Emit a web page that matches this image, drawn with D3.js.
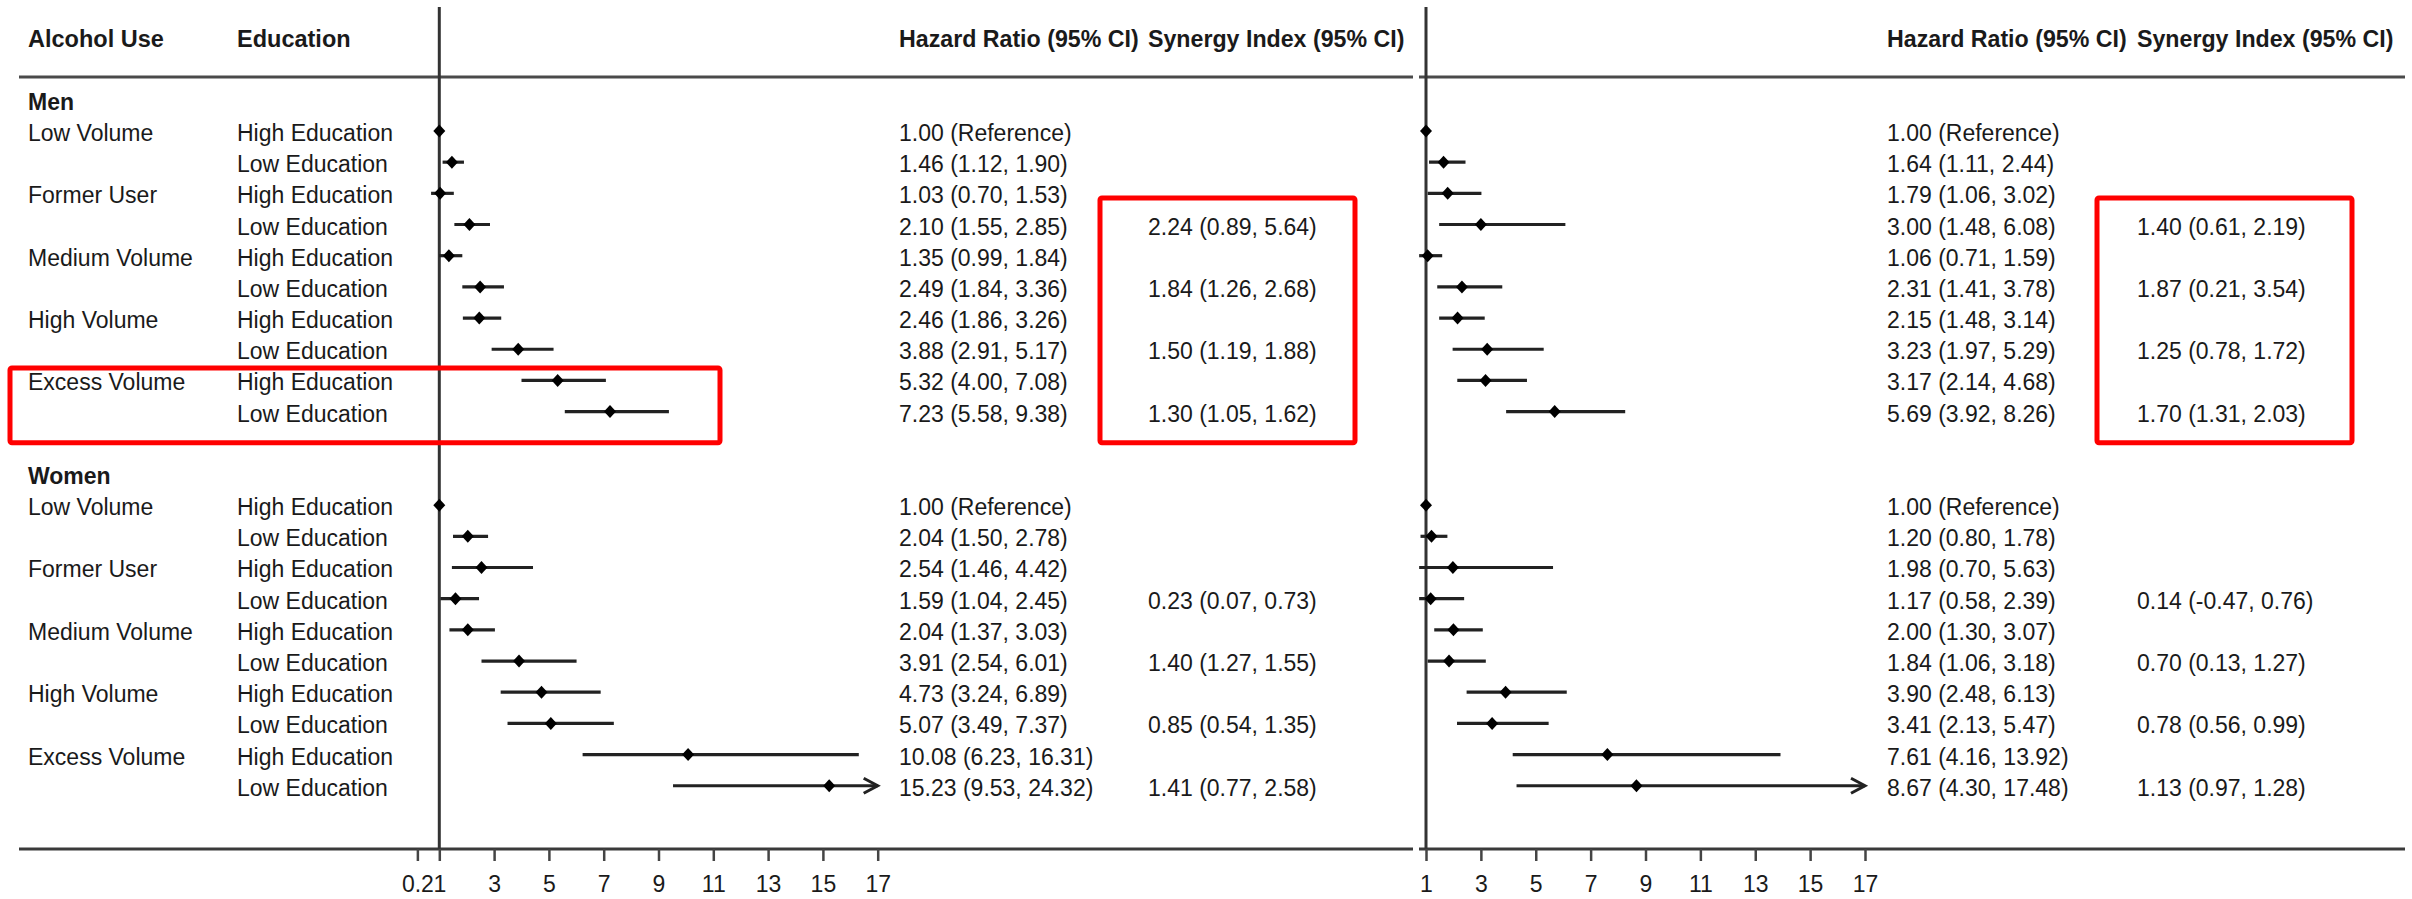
<!DOCTYPE html>
<html>
<head>
<meta charset="utf-8">
<script src="https://cdn.jsdelivr.net/npm/d3@7"></script>
<style>
  body { margin: 0; background: #fff; }
  svg { display: block; font-family: "Liberation Sans", Arial, sans-serif; }
</style>
</head>
<body>
<svg id="chart" width="2412" height="899"></svg>
<script>
// Forest plot: alcohol use x education, hazard ratios and synergy index

const alcohol = ['Low Volume', 'Former User', 'Medium Volume', 'High Volume', 'Excess Volume'];
const education = ['High Education', 'Low Education'];
const groups = ['Men', 'Women'];

// [HR, lower, upper] per row, left panel
const menA = [[1.00, null, null], [1.46, 1.12, 1.90], [1.03, 0.70, 1.53], [2.10, 1.55, 2.85], [1.35, 0.99, 1.84],
  [2.49, 1.84, 3.36], [2.46, 1.86, 3.26], [3.88, 2.91, 5.17], [5.32, 4.00, 7.08], [7.23, 5.58, 9.38]];
const womenA = [[1.00, null, null], [2.04, 1.50, 2.78], [2.54, 1.46, 4.42], [1.59, 1.04, 2.45], [2.04, 1.37, 3.03],
  [3.91, 2.54, 6.01], [4.73, 3.24, 6.89], [5.07, 3.49, 7.37], [10.08, 6.23, 16.31], [15.23, 9.53, 24.32]];
// right panel
const menB = [[1.00, null, null], [1.64, 1.11, 2.44], [1.79, 1.06, 3.02], [3.00, 1.48, 6.08], [1.06, 0.71, 1.59],
  [2.31, 1.41, 3.78], [2.15, 1.48, 3.14], [3.23, 1.97, 5.29], [3.17, 2.14, 4.68], [5.69, 3.92, 8.26]];
const womenB = [[1.00, null, null], [1.20, 0.80, 1.78], [1.98, 0.70, 5.63], [1.17, 0.58, 2.39], [2.00, 1.30, 3.07],
  [1.84, 1.06, 3.18], [3.90, 2.48, 6.13], [3.41, 2.13, 5.47], [7.61, 4.16, 13.92], [8.67, 4.30, 17.48]];

// synergy index, shown on the low-education rows of Former/Medium/High/Excess
const siRows = [3, 5, 7, 9];
const siMenA = [[2.24, 0.89, 5.64], [1.84, 1.26, 2.68], [1.50, 1.19, 1.88], [1.30, 1.05, 1.62]];
const siWomenA = [[0.23, 0.07, 0.73], [1.40, 1.27, 1.55], [0.85, 0.54, 1.35], [1.41, 0.77, 2.58]];
const siMenB = [[1.40, 0.61, 2.19], [1.87, 0.21, 3.54], [1.25, 0.78, 1.72], [1.70, 1.31, 2.03]];
const siWomenB = [[0.14, -0.47, 0.76], [0.70, 0.13, 1.27], [0.78, 0.56, 0.99], [1.13, 0.97, 1.28]];

const ticksA = [0.2, 1, 3, 5, 7, 9, 11, 13, 15, 17];
const ticksB = [1, 3, 5, 7, 9, 11, 13, 15, 17];
const xMax = 17;

const svg = d3.select('#chart');
const ink = '#1a1a1a';

// row index -> vertical position (0 = Men, 12 = Women, 24 = axis)
const y = d3.scaleLinear().domain([0, 24]).range([99.8, 848.1]);
const axisY = 849;
const base = 10; // text baseline offset from row centre

const f2 = v => v.toFixed(2);
const ciText = d => `${f2(d[0])} (${f2(d[1])}, ${f2(d[2])})`;

const panels = [
  { x: d3.scaleLinear().domain([1, xMax]).range([439.3, 877.7]), ticks: ticksA,
    data: [menA, womenA], si: [siMenA, siWomenA], hrX: 899, siX: 1148, span: [19, 1413], minVal: 0.2 },
  { x: d3.scaleLinear().domain([1, xMax]).range([1426, 1865]), ticks: ticksB,
    data: [menB, womenB], si: [siMenB, siWomenB], hrX: 1887, siX: 2137, span: [1419, 2405], minVal: 0.75 }
];

// left-hand labels
const label = (x, yy, t, size, bold) => svg.append('text')
  .attr('x', x).attr('y', yy)
  .attr('font-size', size)
  .attr('font-weight', bold ? 'bold' : 'normal')
  .attr('fill', ink)
  .text(t);

label(28, 47, 'Alcohol Use', 23.5, true);
label(237, 47, 'Education', 23.5, true);

groups.forEach((g, gi) => {
  const r0 = gi * 12;
  label(28, y(r0) + base, g, 23, true);
  d3.range(10).forEach(j => {
    if (j % 2 === 0) label(28, y(r0 + 1 + j) + base, alcohol[j / 2], 23, false);
    label(237, y(r0 + 1 + j) + base, education[j % 2], 23, false);
  });
});

panels.forEach(p => {
  const g = svg.append('g');
  const x = p.x;

  // header rule and axis rule
  g.append('line')
    .attr('x1', p.span[0]).attr('x2', p.span[1])
    .attr('y1', 77).attr('y2', 77)
    .attr('stroke', '#4a4a4a').attr('stroke-width', 3);
  g.append('line')
    .attr('x1', p.span[0]).attr('x2', p.span[1])
    .attr('y1', axisY).attr('y2', axisY)
    .attr('stroke', '#3a3a3a').attr('stroke-width', 3);

  // reference line at HR = 1
  g.append('line')
    .attr('x1', x(1)).attr('x2', x(1))
    .attr('y1', 7).attr('y2', axisY)
    .attr('stroke', '#333').attr('stroke-width', 3);

  // axis ticks
  const ax = g.append('g')
    .attr('transform', `translate(0,${axisY})`)
    .call(d3.axisBottom(x).tickValues(p.ticks).tickSize(12).tickPadding(15).tickFormat(d => String(d)));
  ax.select('.domain').remove();
  ax.selectAll('.tick line').attr('stroke', '#444').attr('stroke-width', 2.5);
  ax.selectAll('.tick text')
    .attr('font-size', 23)
    .attr('font-family', '"Liberation Sans", Arial, sans-serif')
    .attr('fill', ink);

  // column headers
  label(p.hrX, 47, 'Hazard Ratio (95% CI)', 23.2, true);
  label(p.siX, 47, 'Synergy Index (95% CI)', 23.2, true);

  p.data.forEach((rows, gi) => {
    const r0 = gi * 12 + 1;
    const pts = rows.map((d, j) => ({ d, yy: y(r0 + j), j }));

    // CI lines
    const ci = pts.filter(o => o.d[1] !== null);
    g.selectAll(null).data(ci).enter().append('line')
      .attr('x1', o => x(Math.max(p.minVal, o.d[1])))
      .attr('x2', o => x(Math.min(xMax, o.d[2])))
      .attr('y1', o => o.yy).attr('y2', o => o.yy)
      .attr('stroke', '#222').attr('stroke-width', 3.2);

    // open arrowheads for truncated intervals
    g.selectAll(null).data(ci.filter(o => o.d[2] > xMax)).enter().append('path')
      .attr('d', o => `M${x(xMax) - 14},${o.yy - 7.5}L${x(xMax)},${o.yy}L${x(xMax) - 14},${o.yy + 7.5}`)
      .attr('fill', 'none').attr('stroke', '#222').attr('stroke-width', 3);

    // point estimates
    g.selectAll(null).data(pts).enter().append('path')
      .attr('d', o => {
        const cx = x(o.d[0]);
        return `M${cx - 6},${o.yy}L${cx},${o.yy - 6.5}L${cx + 6},${o.yy}L${cx},${o.yy + 6.5}Z`;
      })
      .attr('fill', '#000');

    // hazard ratio text
    g.selectAll(null).data(pts).enter().append('text')
      .attr('x', p.hrX).attr('y', o => o.yy + base)
      .attr('font-size', 23).attr('fill', ink)
      .text(o => o.j === 0 ? `${f2(o.d[0])} (Reference)` : ciText(o.d));

    // synergy index text
    g.selectAll(null).data(p.si[gi]).enter().append('text')
      .attr('x', p.siX).attr('y', (d, k) => y(r0 + siRows[k]) + base)
      .attr('font-size', 23).attr('fill', ink)
      .text(ciText);
  });
});

// red highlight boxes
const boxes = [
  { x0: 1100, x1: 1355, r0: 3.15, r1: 11 },
  { x0: 10, x1: 720, r0: 8.6, r1: 11 },
  { x0: 2097, x1: 2352, r0: 3.15, r1: 11 }
];
svg.selectAll('rect.hl').data(boxes).enter().append('rect')
  .attr('class', 'hl')
  .attr('x', d => d.x0).attr('width', d => d.x1 - d.x0)
  .attr('y', d => y(d.r0)).attr('height', d => y(d.r1) - y(d.r0))
  .attr('rx', 2)
  .attr('fill', 'none').attr('stroke', '#ff0000').attr('stroke-width', 5);
</script>
</body>
</html>
